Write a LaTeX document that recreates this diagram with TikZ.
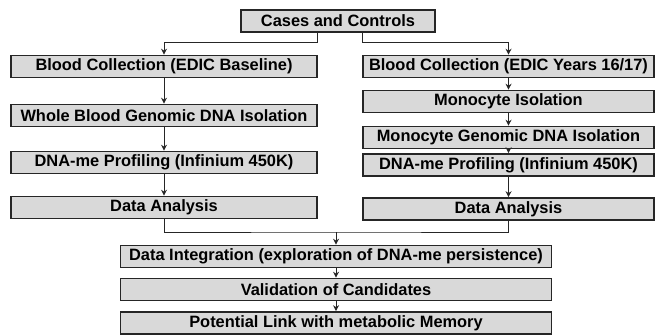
\documentclass[tikz,border=0pt]{standalone}
\usepackage{fontspec}
\setmainfont{Liberation Sans}
\usetikzlibrary{arrows, positioning, arrows.meta, fit, shapes}

\begin{document}
\begin{tikzpicture}[x=1pt, y=-1pt,
    stepbox/.style={draw=black!85, fill=black!15, line width=1.6pt, inner sep=0pt, minimum height=22pt, font=\fontsize{16.4}{18}\selectfont\bfseries},
    leftbox/.style={stepbox, minimum width=306pt},
    rightbox/.style={stepbox, minimum width=291pt},
    midbox/.style={stepbox, minimum width=431pt},
    link/.style={draw=black!85, line width=0.9pt, arrows = {-Stealth[length=6pt, width=6pt]}}]
    \useasboundingbox (0,0) rectangle (663,335);

    % Nodes
    \node[stepbox, minimum width=194pt] (cases) at (338,21) {Cases and Controls};

    \node[leftbox] (lblood) at (164,66.5) {Blood Collection (EDIC Baseline)};
    \node[leftbox] (lwhole) at (164,115.5) {Whole Blood Genomic DNA Isolation};
    \node[leftbox] (lprofile) at (164,162.5) {DNA-me Profiling (Infinium 450K)};
    \node[leftbox] (lanalysis) at (164,207.5) {Data Analysis};

    \node[rightbox] (rblood) at (508.5,66.5) {Blood Collection (EDIC Years 16/17)};
    \node[rightbox] (rmono) at (508.5,101.5) {Monocyte Isolation};
    \node[rightbox] (rgenomic) at (508.5,137.5) {Monocyte Genomic DNA Isolation};
    \node[rightbox] (rprofile) at (508.5,165) {DNA-me Profiling (Infinium 450K)};
    \node[rightbox] (ranalysis) at (508.5,209) {Data Analysis};

    \node[midbox] (integration) at (336,256.5) {Data Integration (exploration of DNA-me persistence)};
    \node[midbox] (validation) at (336,289.5) {Validation of Candidates};
    \node[midbox] (memory) at (336,323) {Potential Link with metabolic Memory};

    \coordinate (merge) at (336,232);

    % Connections
    \draw [link] (cases.south -| lblood.east) -- ++(0,10) -| (lblood.north);
    \draw [link] (cases.south -| rblood.west) -- ++(0,10) -| (rblood.north);

    \draw [link] (lblood) to (lwhole);
    \draw [link] (lwhole) to (lprofile);
    \draw [link] (lprofile) to (lanalysis);

    \draw [link] (rblood) to (rmono);
    \draw [link] (rmono) to (rgenomic);
    \draw [link] (rgenomic) to (rprofile);
    \draw [link] (rprofile) to (ranalysis);

    \draw [link, -] (lanalysis.south) |- (merge) -| (ranalysis.south);
    \draw [link] (merge) to (integration);
    \draw [link] (integration) to (validation);
    \draw [link] (validation) to (memory);
\end{tikzpicture}
\end{document}
